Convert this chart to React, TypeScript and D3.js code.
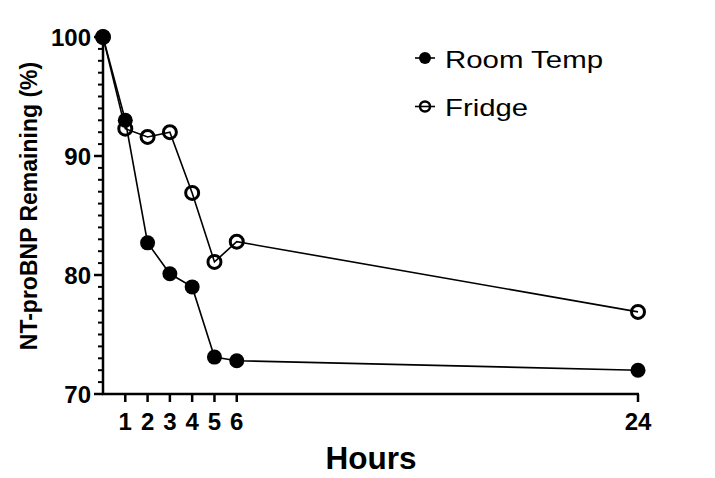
import * as d3 from "d3";
import React from "react";

const hours = [0, 1, 2, 3, 4, 5, 6, 24];
const roomTemp = [100, 93.0, 82.7, 80.1, 79.0, 73.1, 72.8, 72.0];
const fridge = [100, 92.3, 91.6, 92.0, 86.9, 81.1, 82.8, 76.9];
const xTicks = [1, 2, 3, 4, 5, 6, 24];
const yTicks = [70, 80, 90, 100];
const seriesNames = ["Room Temp", "Fridge"];

const FONT = "'Liberation Sans', Arial, Helvetica, sans-serif";

export default function App() {
    const width = 715;
    const height = 478;
    const x = d3.scaleLinear().domain([0, 24]).range([103, 638]);
    const y = d3.scaleLinear().domain([70, 100]).range([394, 37]);
    const minor = d3.range(70, 101, 1).filter(v => !yTicks.includes(v));

    const line = d3.line<number>()
        .x((_, i) => x(hours[i]))
        .y(d => y(d));

    const series = [
        { name: seriesNames[0], values: roomTemp, filled: true, len: 158 },
        { name: seriesNames[1], values: fridge, filled: false, len: 83 },
    ];

    return (
        <svg width={width} height={height} style={{ position: "absolute", left: 0, top: 0, background: "#fff" }}>
            {/* y axis */}
            <line x1={x(0)} x2={x(0)} y1={y(70)} y2={y(100)} stroke="#000" strokeWidth={2.5} />
            {yTicks.map(t => (
                <g key={t}>
                    <line x1={x(0) - 9} x2={x(0)} y1={y(t)} y2={y(t)} stroke="#000" strokeWidth={2.5} />
                    <text x={x(0) - 12} y={y(t) + 8.5} textAnchor="end" fontFamily={FONT} fontWeight="bold" fontSize={24}>{t}</text>
                </g>
            ))}
            {minor.map(t => (
                <line key={t} x1={x(0) - 5} x2={x(0)} y1={y(t)} y2={y(t)} stroke="#000" strokeWidth={2} />
            ))}
            {/* x axis */}
            <line x1={x(0) - 1} x2={x(24) + 1} y1={y(70)} y2={y(70)} stroke="#000" strokeWidth={2.5} />
            {xTicks.map(t => (
                <g key={t}>
                    <line x1={x(t)} x2={x(t)} y1={y(70)} y2={y(70) + 8} stroke="#000" strokeWidth={2.5} />
                    <text x={x(t)} y={y(70) + 36} textAnchor="middle" fontFamily={FONT} fontWeight="bold" fontSize={24}>{t}</text>
                </g>
            ))}
            <text x={371} y={469} textAnchor="middle" fontFamily={FONT} fontWeight="bold" fontSize={31.5}>Hours</text>
            <text transform={`translate(37,206) rotate(-90)`} textAnchor="middle" fontFamily={FONT} fontWeight="bold" fontSize={23}>NT-proBNP Remaining (%)</text>

            {/* series */}
            {series.slice().reverse().map(s => (
                <g key={s.name}>
                    <path d={line(s.values) || ""} fill="none" stroke="#000" strokeWidth={1.6} />
                    {s.values.map((v, i) => (
                        s.filled
                            ? <circle key={i} cx={x(hours[i])} cy={y(v)} r={7.5} fill="#000" />
                            : <circle key={i} cx={x(hours[i])} cy={y(v)} r={6.5} fill="#fff" fillOpacity={0} stroke="#000" strokeWidth={3} />
                    ))}
                </g>
            ))}
            {/* redraw filled point at 0 on top */}
            <circle cx={x(hours[0])} cy={y(roomTemp[0])} r={7.5} fill="#000" />

            {/* legend */}
            {series.map((s, i) => {
                const ly = 58 + i * 48.5;
                return (
                    <g key={s.name}>
                        <line x1={415} x2={435} y1={ly} y2={ly} stroke="#000" strokeWidth={1.6} />
                        {s.filled
                            ? <circle cx={425} cy={ly} r={6} fill="#000" />
                            : <circle cx={425} cy={ly} r={5} fill="none" stroke="#000" strokeWidth={2.5} />}
                        <text x={445} y={ly + 9.5} fontFamily={FONT} fontSize={24.5} textLength={s.len} lengthAdjust="spacingAndGlyphs">{s.name}</text>
                    </g>
                );
            })}
        </svg>
    );
}
